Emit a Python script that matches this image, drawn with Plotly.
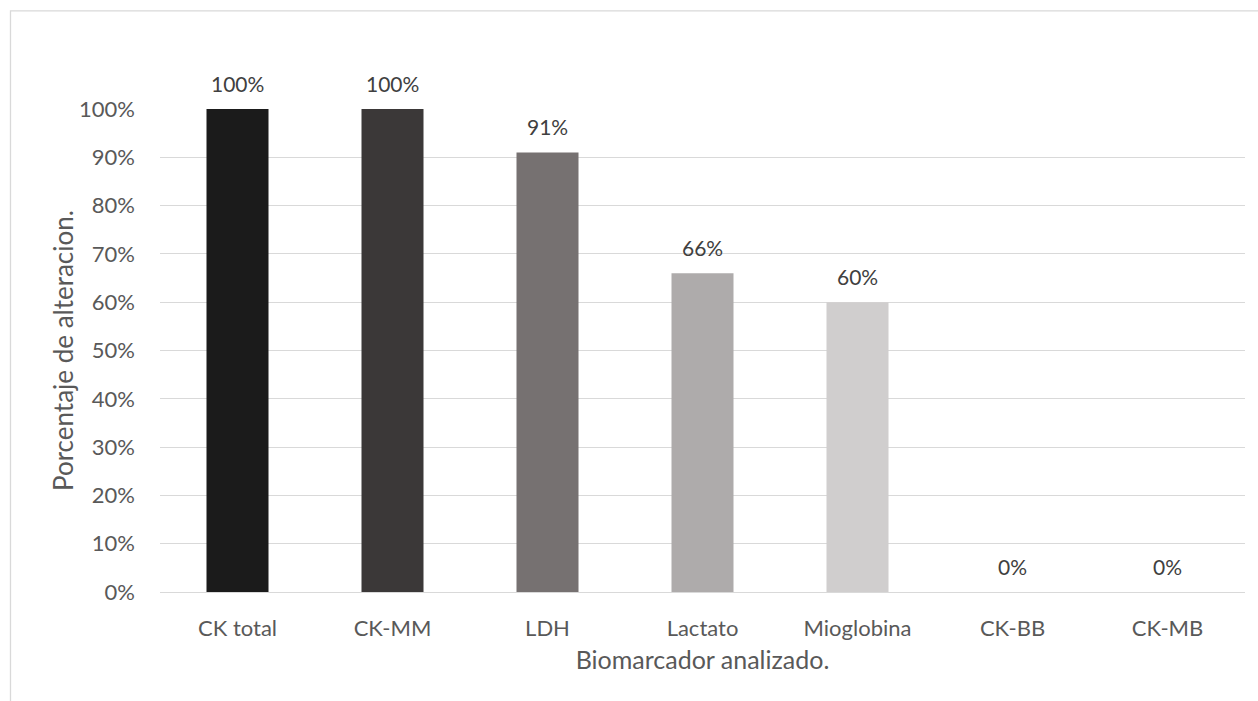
import plotly.graph_objects as go

categories = ["CK total", "CK-MM", "LDH", "Lactato", "Mioglobina", "CK-BB", "CK-MB"]
values = [1.00, 1.00, 0.91, 0.66, 0.60, 0.0, 0.0]
bar_colors = ["#1b1b1b", "#3b3838", "#767171", "#aeabab", "#d0cece", "#d0cece", "#d0cece"]
y_ticks = [i / 10 for i in range(11)]
y_tick_labels = [f"{i*10}%" for i in range(11)]
x_title = "Biomarcador analizado."
y_title = "Porcentaje de alteracion."

W, H = 1258, 701
L, R, T, B = 160, 13, 108.7, 109.3
FONT = "Lato"
TICK_SIZE = 22
LABEL_SIZE = 21
TITLE_SIZE = 25

pw = W - L - R
ph = H - T - B

fig = go.Figure()
fig.add_trace(go.Bar(
    x=categories, y=values,
    marker=dict(color=bar_colors, line=dict(width=0)),
    width=0.4, hoverinfo="skip",
))

for c, v in zip(categories, values):
    fig.add_annotation(
        x=c, y=v, text=f"{round(v*100)}%", showarrow=False,
        yanchor="bottom", yshift=11,
        font=dict(family=FONT, size=LABEL_SIZE, color="#404040"),
    )

# y-axis title as a rotated annotation centred on the plot area
fig.add_annotation(
    xref="paper", yref="paper", x=(62.5 - L) / pw, y=0.5,
    xanchor="center", yanchor="middle", textangle=-90, showarrow=False,
    text=y_title, font=dict(family=FONT, size=26, color="#595959"),
)

fig.add_shape(
    type="rect", xref="paper", yref="paper",
    x0=(10.5 - L) / pw, x1=(W + 20 - L) / pw,
    y0=-(H + 20 - (H - B)) / ph, y1=((H - B) - 10.5) / ph,
    line=dict(color="#d9d9d9", width=1.3), fillcolor="rgba(0,0,0,0)", layer="below",
)

fig.update_layout(
    width=W, height=H,
    margin=dict(l=L, r=R, t=T, b=B, pad=0),
    paper_bgcolor="white", plot_bgcolor="white",
    showlegend=False,
    font=dict(family=FONT, color="#595959", size=TICK_SIZE),
    xaxis=dict(
        type="category", showgrid=False, zeroline=False, showline=False,
        ticks="", tickfont=dict(size=TICK_SIZE, color="#595959"),
        ticklabelstandoff=21,
        title=dict(text=x_title, font=dict(size=TITLE_SIZE, color="#595959"), standoff=11),
    ),
    yaxis=dict(
        range=[0, 1], tickvals=y_ticks, ticktext=y_tick_labels,
        showgrid=True, gridcolor="#d9d9d9", gridwidth=1.3,
        zeroline=True, zerolinecolor="#d9d9d9", zerolinewidth=1.3,
        showline=False, ticks="", tickfont=dict(size=TICK_SIZE, color="#595959"),
        ticklabelstandoff=24,
    ),
)

fig.write_html("out.html")
